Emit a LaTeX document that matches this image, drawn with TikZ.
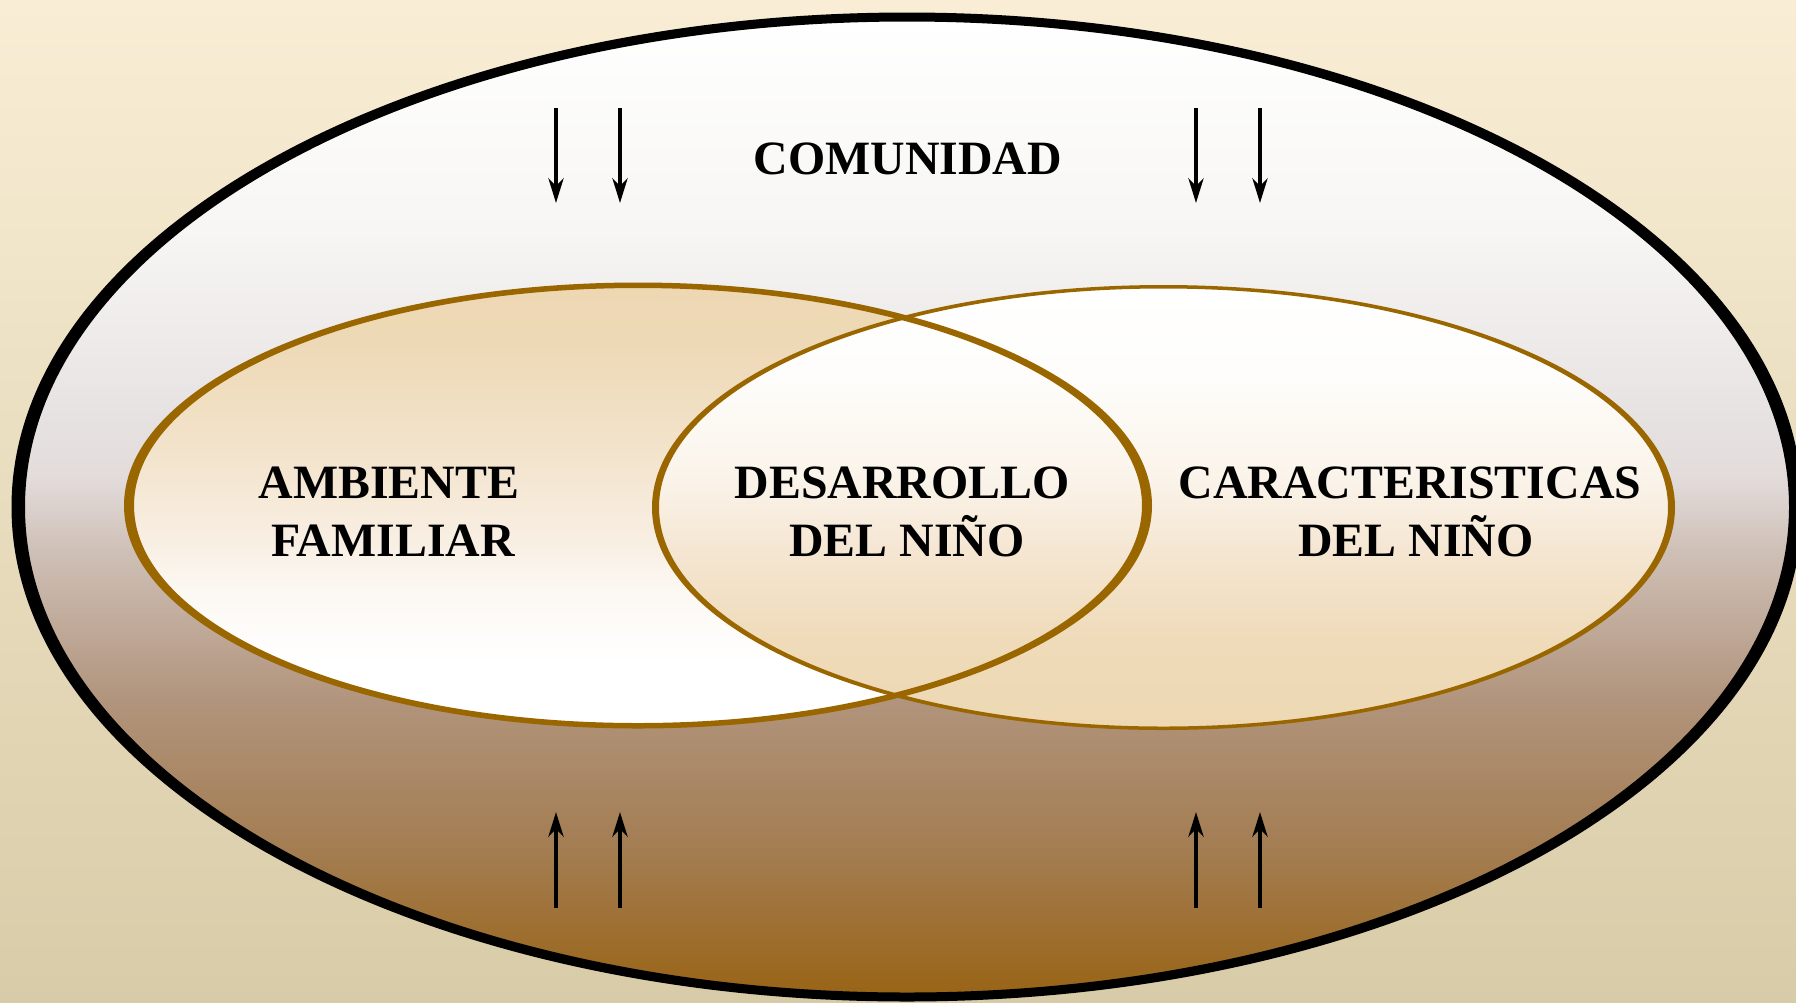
\documentclass[tikz,border=0pt]{standalone}
\usepackage{fontspec}
\setmainfont{Liberation Serif}
\usetikzlibrary{arrows.meta}
\definecolor{bgtop}{RGB}{249,237,213}
\definecolor{bgbot}{RGB}{216,204,168}
\definecolor{gold}{RGB}{154,102,0}
% outer ellipse stops
\definecolor{oa}{RGB}{255,255,255}
\definecolor{ob}{RGB}{247,246,244}
\definecolor{oc}{RGB}{232,228,228}
\definecolor{od}{RGB}{226,219,218}
\definecolor{oe}{RGB}{207,192,183}
\definecolor{of}{RGB}{177,148,124}
\definecolor{og}{RGB}{163,124,80}
\definecolor{oh}{RGB}{153,100,22}
% left ellipse stops
\definecolor{la}{RGB}{238,216,180}
\definecolor{lb}{RGB}{238,217,182}
\definecolor{lc}{RGB}{243,228,205}
\definecolor{ld}{RGB}{248,238,226}
\definecolor{le}{RGB}{252,249,244}
\definecolor{lf}{RGB}{255,255,255}
% right ellipse stops
\definecolor{ra}{RGB}{255,255,255}
\definecolor{rb}{RGB}{254,253,251}
\definecolor{rc}{RGB}{250,243,233}
\definecolor{rd}{RGB}{245,230,210}
\definecolor{re}{RGB}{239,219,185}
\definecolor{rf}{RGB}{238,216,180}
\pgfdeclareverticalshading{outersh}{100bp}{color(0bp)=(oh); color(25bp)=(oh); color(32.3bp)=(og); color(40.1bp)=(of); color(47.8bp)=(oe); color(51.4bp)=(od); color(55.5bp)=(oc); color(64.2bp)=(ob); color(75bp)=(oa); color(100bp)=(oa)}
\pgfdeclareverticalshading{leftsh}{100bp}{color(0bp)=(lf); color(25bp)=(lf); color(31.8bp)=(lf); color(39.6bp)=(le); color(46.3bp)=(ld); color(55.5bp)=(lc); color(68.6bp)=(lb); color(75bp)=(la); color(100bp)=(la)}
\pgfdeclareverticalshading{rightsh}{100bp}{color(0bp)=(rf); color(25bp)=(rf); color(34.8bp)=(re); color(45.1bp)=(rd); color(53bp)=(rc); color(64.8bp)=(rb); color(75bp)=(ra); color(100bp)=(ra)}
\tikzset{
  lbl/.style={font=\fontsize{13.6}{16}\selectfont\bfseries, inner sep=0pt, anchor=base, text=black},
  arr/.style={line width=1.14pt, -{Stealth[length=7pt,width=4.3pt,inset=2.2pt]}}
}
\begin{document}
\begin{tikzpicture}[x=0.01cm,y=-0.01cm]
\useasboundingbox (0,0) rectangle (1796,1002);
\shade[top color=bgtop, bottom color=bgbot] (0,0) rectangle (1796,1002);
% outer ellipse
\coordinate (oc) at (907,507);
\shade[shading=outersh] (oc) ellipse [x radius=884, y radius=488];
\fill[black, even odd rule] (oc) ellipse [x radius=895.5, y radius=494.5] (oc) ellipse [x radius=882, y radius=485.5];
% inner ellipses
\coordinate (lc) at (638,505.5);
\coordinate (rc) at (1163.5,507.5);
\shade[shading=leftsh] (lc) ellipse [x radius=506, y radius=218.5];
\shade[shading=rightsh] (rc) ellipse [x radius=506, y radius=220];
\fill[gold, even odd rule] (lc) ellipse [x radius=514, y radius=223] (lc) ellipse [x radius=504, y radius=217.5];
\fill[gold, even odd rule] (rc) ellipse [x radius=511.5, y radius=222.5] (rc) ellipse [x radius=504.5, y radius=219];
% arrows
\coordinate (t1s) at (556,108); \coordinate (t1e) at (556,203);
\coordinate (t2s) at (620,108); \coordinate (t2e) at (620,203);
\coordinate (t3s) at (1196,108); \coordinate (t3e) at (1196,203);
\coordinate (t4s) at (1260,108); \coordinate (t4e) at (1260,203);
\coordinate (b1s) at (556,908); \coordinate (b1e) at (556,812);
\coordinate (b2s) at (620,908); \coordinate (b2e) at (620,812);
\coordinate (b3s) at (1196,908); \coordinate (b3e) at (1196,812);
\coordinate (b4s) at (1260,908); \coordinate (b4e) at (1260,812);
\foreach \a in {t1,t2,t3,t4,b1,b2,b3,b4} \draw[arr] (\a s) -- (\a e);
% labels
\node[lbl] (comunidad) at (908,174) {COMUNIDAD};
\node[lbl] (amb1) at (389,498) {AMBIENTE};
\node[lbl] (amb2) at (393,556) {FAMILIAR};
\node[lbl] (des1) at (902,498) {DESARROLLO};
\node[lbl] (des2) at (907,556) {DEL NIÑO};
\node[lbl] (car1) at (1410,498) {CARACTERISTICAS};
\node[lbl] (car2) at (1416,556) {DEL NIÑO};
\end{tikzpicture}
\end{document}
